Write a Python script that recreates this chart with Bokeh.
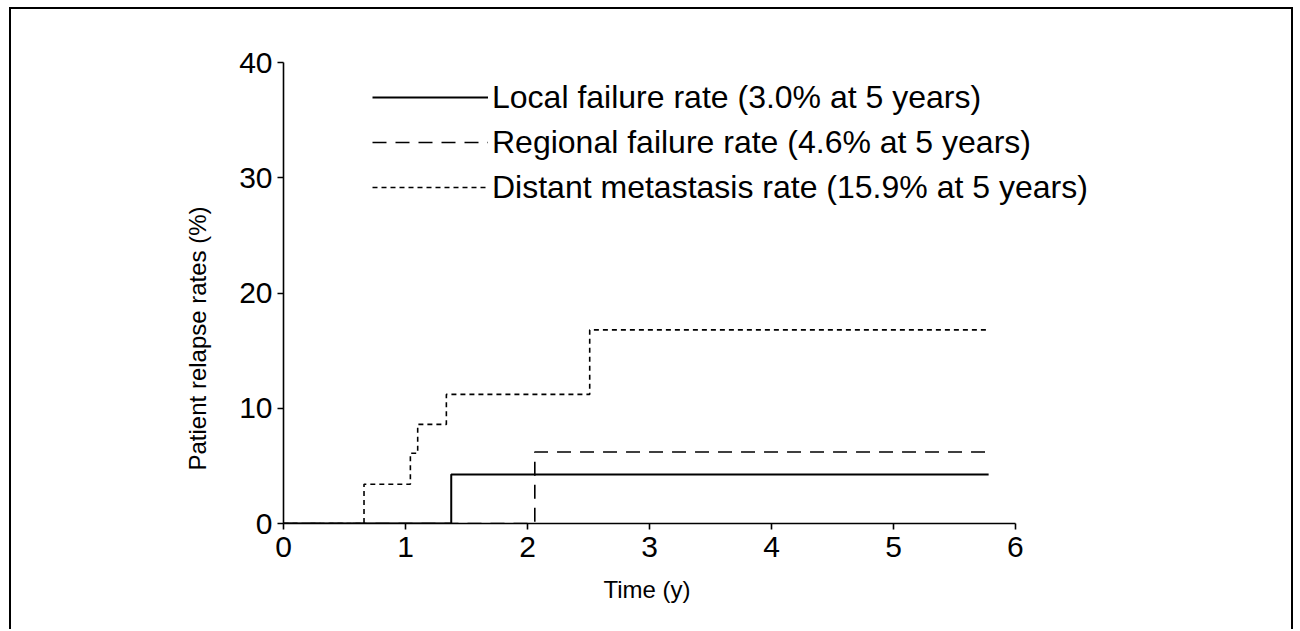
from bokeh.plotting import figure
from bokeh.models import Range1d, Legend, LegendItem, FixedTicker, Title
from bokeh.embed import file_html
from bokeh.resources import INLINE

# ---- data ----
x_ticks = [0, 1, 2, 3, 4, 5, 6]
y_ticks = [0, 10, 20, 30, 40]

local_t = [0, 1.375, 5.78]
local_v = [0, 4.25, 4.25]

regional_t = [0, 2.06, 5.78]
regional_v = [0, 6.2, 6.2]

distant_t = [0, 0.66, 1.04, 1.10, 1.335, 2.51, 5.78]
distant_v = [0, 3.4, 6.1, 8.6, 11.2, 16.8, 16.8]

series_labels = [
    "Local failure rate (3.0% at 5 years)",
    "Regional failure rate (4.6% at 5 years)",
    "Distant metastasis rate (15.9% at 5 years)",
]
x_label = "Time (y)"
y_label = "Patient relapse rates (%)"

FONT = "Liberation Sans"

p = figure(width=1284, height=622, output_backend="svg", toolbar_location=None,
           x_range=Range1d(0, 6.861), y_range=Range1d(0, 40),
           min_border_left=272, min_border_right=175,
           min_border_top=53, min_border_bottom=108)
p.margin = (7, 0, 0, 9)
p.styles = {"border-left": "2px solid black", "border-top": "2px solid black",
            "border-right": "2px solid black"}
p.outline_line_color = None
p.xgrid.visible = False
p.ygrid.visible = False
p.background_fill_color = "white"
p.border_fill_color = "white"

r_local = p.step(local_t, local_v, mode="after", line_color="black", line_width=2)
r_reg = p.step(regional_t, regional_v, mode="after", line_color="black",
               line_width=1.6, line_dash="14 9")
r_dist = p.step(distant_t, distant_v, mode="after", line_color="black",
                line_width=1.6, line_dash="5 4")

for ax, ticks in ((p.xaxis, x_ticks), (p.yaxis, y_ticks)):
    ax.ticker = FixedTicker(ticks=ticks)
    ax.major_tick_out = 6
    ax.major_tick_in = 0
    ax.minor_tick_out = 0
    ax.minor_tick_in = 0
    ax.axis_line_width = 1.6
    ax.axis_line_color = "black"
    ax.major_tick_line_width = 1.6
    ax.major_tick_line_color = "black"
    ax.major_label_text_font = FONT
    ax.major_label_text_font_size = "30px"
    ax.major_label_text_color = "black"

p.xaxis.bounds = (0, 6)
p.xaxis.major_label_standoff = 7
p.yaxis.major_label_standoff = 5

ytitle = Title(text=y_label, align="left", offset=53, vertical_align="middle",
               text_font=FONT, text_font_size="24px", text_font_style="normal",
               text_color="black", standoff=50)
p.add_layout(ytitle, "left")
xtitle = Title(text=x_label, align="left", offset=320, vertical_align="middle",
               text_font=FONT, text_font_size="24px", text_font_style="normal",
               text_color="black", standoff=30)
p.add_layout(xtitle, "below")

legend = Legend(items=[
    LegendItem(label=series_labels[0], renderers=[r_local]),
    LegendItem(label=series_labels[1], renderers=[r_reg]),
    LegendItem(label=series_labels[2], renderers=[r_dist]),
], location=(89, 316))
legend.label_text_font = FONT
legend.label_text_font_size = "32px"
legend.label_text_color = "black"
legend.glyph_width = 116
legend.glyph_height = 40
legend.label_height = 40
legend.label_standoff = 4
legend.spacing = 5
legend.padding = 0
legend.margin = 0
legend.border_line_color = None
legend.background_fill_alpha = 0
p.add_layout(legend, "center")

open("out.html", "w").write(file_html(p, INLINE))
